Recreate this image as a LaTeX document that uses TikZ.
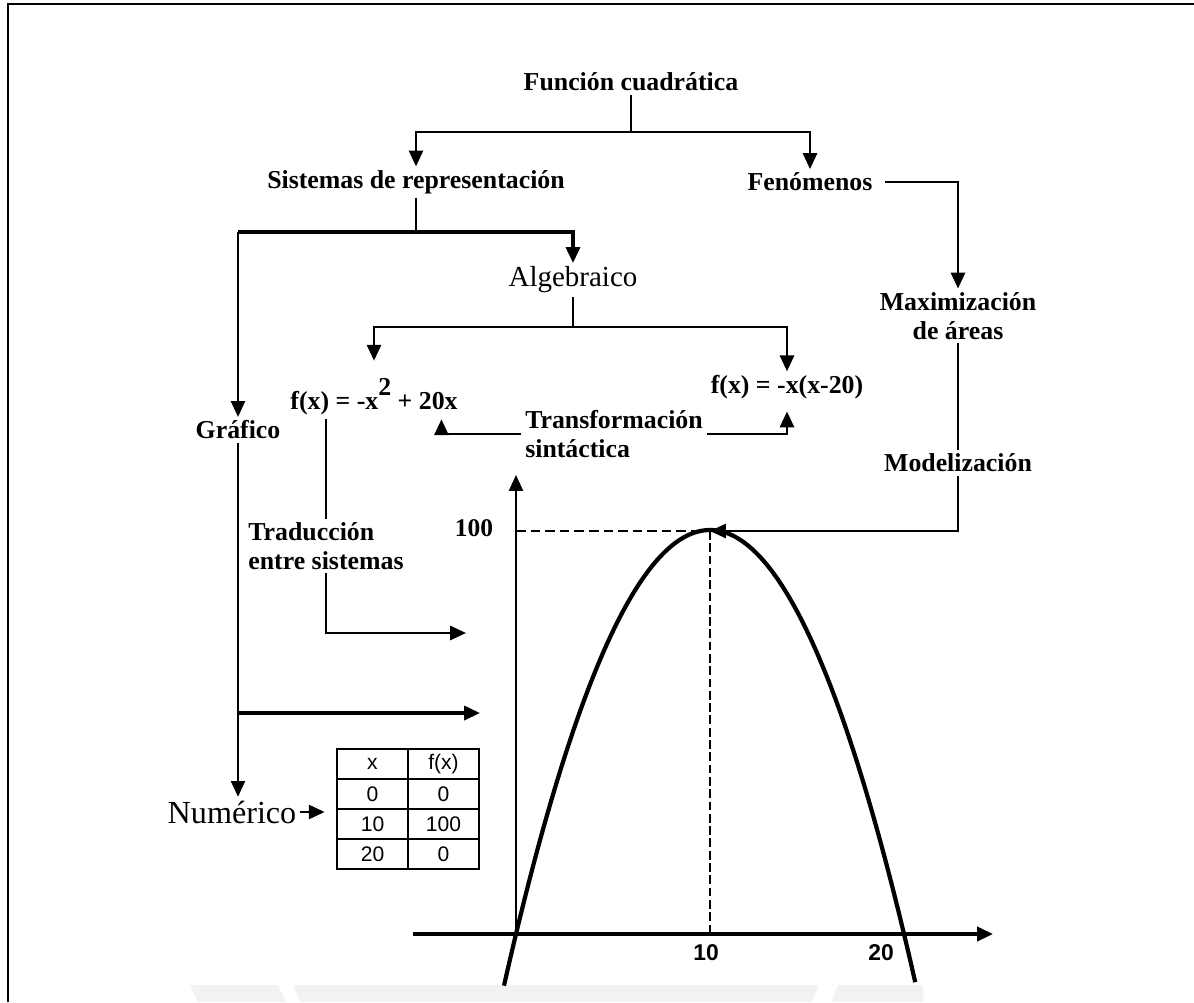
\documentclass[tikz,border=0pt]{standalone}
\usepackage{fontspec}
\setmainfont{Liberation Serif}
\setsansfont{Liberation Sans}
\usepackage{tikz}
\usetikzlibrary{arrows.meta,positioning,matrix,calc}
\colorlet{wm}{black!5}
\newcommand{\sqr}{\raisebox{0.55em}{2}}
\tikzset{lbl/.style={font=\bfseries\fontsize{14.7}{16.5}\selectfont, inner sep=2pt, align=center},
         lblr/.style={font=\fontsize{16.5}{18}\selectfont, inner sep=2pt},
         cn/.style={line width=1.4pt},
         arr/.style={line width=1.4pt, -{Triangle[length=9pt,width=8pt]}},
         tbl/.style={matrix of nodes, column sep=-1pt, row sep=-1pt,
            nodes={draw, line width=1pt, minimum width=1.42cm, minimum height=0.6cm, inner sep=0pt,
            font=\sffamily\fontsize{12}{13}\selectfont}}}

\begin{document}
\begin{tikzpicture}[x=0.02cm, y=-0.02cm]
\useasboundingbox (0,0) rectangle (1194,1002);
 \fill[wm] (190,985) -- (278,985) -- (286,1002) -- (198,1002) -- cycle;
 \fill[wm] (293,985) -- (819,985) -- (812,1002) -- (300,1002) -- cycle;
 \fill[wm] (838,985) -- (923,985) -- (923,1002) -- (831,1002) -- cycle;
 \draw[line width=1.6pt] (8,1002) -- (8,4) -- (1194,4);

 \node[lbl] (fc) at (631,82) {Función cuadrática};
 \node[lbl] (sr) at (416,182) {Sistemas de representación};
 \node[lbl] (fen) at (810,182) {Fenómenos};
 \node[lblr] (alg) at (573,280) {Algebraico};
 \node[lbl] (max) at (958,316) {Maximización\\de áreas};
 \node[lbl] (mod) at (958,463) {Modelización};
 \node[lbl] (f1) at (374,397) {f(x) = -x\sqr{} + 20x};
 \node[lbl] (f2) at (787,387) {f(x) = -x(x-20)};
 \node[lbl] (graf) at (238,430) {Gráfico};
 \node[lbl, align=left] (ts) at (614,434) {Transformación\\sintáctica};
 \node[lbl, align=left] (tr) at (326,546) {Traducción\\entre sistemas};
 \node[lblr, font=\fontsize{18.3}{19}\selectfont] (num) at (232,812) {Numérico};
 \matrix[tbl] (tab) at (408,809) {
   x & f(x) \\
   0 & 0 \\
   10 & 100 \\
   20 & 0 \\
 };

 \coordinate (j1) at (633,132);
 \draw[cn] (fc.south) -- (fc.south |- j1);
 \draw[arr] (fc.south |- j1) -| (sr.north);
 \draw[arr] (fc.south |- j1) -| (fen.north);
 \draw[arr, shorten <=5pt] (fen.east) -| (max.north);

 \coordinate (j2) at (418,232);
 \draw[cn] (sr.south) -- (sr.south |- j2);
 \draw[arr, line width=1.8pt] (sr.south |- j2) -| (alg.north);
 \draw[line width=1.8pt] (sr.south |- j2) -- (j2 -| graf.north);
 \draw[arr, line width=1.2pt] (j2 -| graf.north) -- (graf.north);

 \coordinate (j3) at (572,327);
 \draw[cn] (alg.south) -- (alg.south |- j3);
 \draw[arr, shorten >=8pt] (alg.south |- j3) -| (f1.north);
 \draw[arr] (alg.south |- j3) -| (f2.north);

 \draw[arr] (ts.west) -| ($(f1.south east)+(-20,0)$);
 \draw[arr, shorten >=5pt] (ts.east) -| (f2.south);

 \coordinate (t1) at (466,633);
 \draw[cn] (f1.south -| tr.north) -- (tr.north);
 \draw[arr] (tr.south) |- (t1);

 \coordinate (g1) at (480,713);
 \draw[arr, line width=1.2pt] (graf.south) -- (graf.south |- num.north);
 \draw[arr, line width=1.8pt] (graf.south |- g1) -- (g1);
 \draw[arr, shorten >=3pt] (num.east) -- (num.east -| tab.west);

 \coordinate (peak) at (710,531);
 \draw[cn] (max.south) -- (mod.north);
 \draw[arr] (mod.south) |- (peak);

 % graph
 \coordinate (O) at (516,934);
 \coordinate (xs) at (413,934);
 \coordinate (xe) at (993,934);
 \coordinate (ye) at (516,475);
 \draw[arr, line width=2pt] (xs) -- (xe);
 \draw[arr, line width=1.1pt] (O) -- (ye);
 \draw[line width=1.5pt, dash pattern=on 5.5pt off 2.8pt] (O |- peak) -- (peak);
 \draw[line width=1pt, dash pattern=on 5pt off 2pt] (peak) -- (peak |- O);
 \draw[line width=2.4pt] plot[domain=-0.62:20.58, samples=80, smooth] ({516+19.4*\x},{934-4.04*(20*\x-\x*\x)});
 \node[font=\bfseries\fontsize{14.5}{16}\selectfont] (l100) at (474,528) {100};
 \node[font=\sffamily\bfseries\fontsize{13}{14}\selectfont] (l10) at (706,953) {10};
 \node[font=\sffamily\bfseries\fontsize{13}{14}\selectfont] (l20) at (881,953) {20};
\end{tikzpicture}
\end{document}
